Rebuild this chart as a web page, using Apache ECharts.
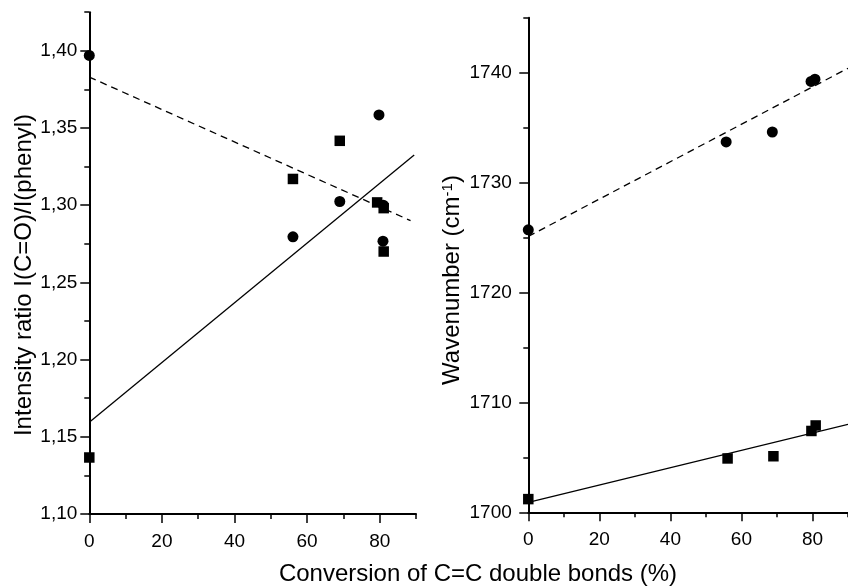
<!DOCTYPE html>
<html>
<head>
<meta charset="utf-8">
<script src="https://cdn.jsdelivr.net/npm/echarts@6/dist/echarts.min.js"></script>
<style>
  html, body { margin: 0; padding: 0; background: #fff; }
  #chart { width: 848px; height: 586px; }
</style>
</head>
<body>
<div id="chart"></div>
<script>
// Intensity ratio I(C=O)/I(phenyl) vs conversion
const ratioCircles = [[0, 1.397], [56.1, 1.2795], [69.0, 1.3024], [79.8, 1.3585], [81.0, 1.300], [80.9, 1.2767]];
const ratioSquares = [[0, 1.1366], [56.1, 1.317], [69.0, 1.3417], [79.3, 1.3018], [81.1, 1.2981], [81.1, 1.270]];
const ratioFitDashed = [[0, 1.383], [88.5, 1.290]];
const ratioFitSolid = [[0, 1.1595], [89.5, 1.3325]];

// Wavenumber vs conversion
const waveCircles = [[0, 1725.7], [55.7, 1733.7], [68.7, 1734.6], [79.6, 1739.2], [80.7, 1739.4]];
const waveSquares = [[0, 1701.2], [56.1, 1704.9], [69.0, 1705.1], [79.7, 1707.4], [80.9, 1707.9]];
const waveFitDashed = [[0, 1725.1], [90, 1740.4]];
const waveFitSolid = [[0, 1700.9], [90, 1708.0]];

// Tick values
const xMajorTicks = [0, 20, 40, 60, 80];
const ratioMajorTicks = [1.10, 1.15, 1.20, 1.25, 1.30, 1.35, 1.40];
const waveMajorTicks = [1700, 1710, 1720, 1730, 1740];

const FONT = '"Liberation Sans", Arial, Helvetica, sans-serif';
const INK = '#000';

function minorAxis(gridIndex, min, max, step, pos) {
  return {
    type: 'value', gridIndex, min, max, interval: step, position: pos,
    axisLine: { show: true, onZero: false, lineStyle: { color: INK, width: 2 } },
    axisTick: { show: true, inside: false, length: 5, lineStyle: { color: INK, width: 1.5 } },
    axisLabel: { show: false },
    splitLine: { show: false }
  };
}
function majorAxis(gridIndex, min, max, ticks, pos, margin, fmt) {
  return {
    type: 'value', gridIndex, min, max, position: pos,
    axisLine: { show: false, onZero: false },
    axisTick: { show: true, length: 9, customValues: ticks, lineStyle: { color: INK, width: 1.5 } },
    axisLabel: { show: true, customValues: ticks, margin, color: INK, fontSize: 19, fontFamily: FONT, formatter: fmt },
    splitLine: { show: false }
  };
}

const commaFmt = v => v.toFixed(2).replace('.', ',');
const intFmt = v => String(Math.round(v));

const scatter = (name, data, xi, yi, symbol, size) => ({
  name, type: 'scatter', xAxisIndex: xi, yAxisIndex: yi, data,
  symbol, symbolSize: size, itemStyle: { color: INK, opacity: 1 }, z: 5, silent: true
});
const fit = (name, data, xi, yi, dashed) => ({
  name, type: 'line', xAxisIndex: xi, yAxisIndex: yi, data,
  showSymbol: false, symbol: 'none', silent: true, z: 3,
  lineStyle: { color: INK, width: 1.3, type: dashed ? [7, 5] : 'solid' }
});

const chart = echarts.init(document.getElementById('chart'), null, { renderer: 'canvas' });
chart.setOption({
  backgroundColor: '#fff',
  animation: false,
  grid: [
    { left: 89.3, top: 12.2, width: 326.7, height: 501.8 },
    { left: 528.3, top: 17.7, width: 326.25, height: 494.6 }
  ],
  xAxis: [
    minorAxis(0, 0, 90, 10, 'bottom'),
    majorAxis(0, 0, 90, xMajorTicks, 'bottom', 18, intFmt),
    minorAxis(1, 0, 90, 10, 'bottom'),
    majorAxis(1, 0, 90, xMajorTicks, 'bottom', 18, intFmt)
  ],
  yAxis: [
    minorAxis(0, 1.10, 1.425, 0.025, 'left'),
    majorAxis(0, 1.10, 1.425, ratioMajorTicks, 'left', 12, commaFmt),
    minorAxis(1, 1700, 1745, 5, 'left'),
    majorAxis(1, 1700, 1745, waveMajorTicks, 'left', 16.5, intFmt)
  ],
  series: [
    fit('ratio fit (circles)', ratioFitDashed, 0, 0, true),
    fit('ratio fit (squares)', ratioFitSolid, 0, 0, false),
    scatter('ratio circles', ratioCircles, 0, 0, 'circle', 11),
    scatter('ratio squares', ratioSquares, 0, 0, 'rect', 10.5),
    fit('wavenumber fit (circles)', waveFitDashed, 2, 2, true),
    fit('wavenumber fit (squares)', waveFitSolid, 2, 2, false),
    scatter('wavenumber circles', waveCircles, 2, 2, 'circle', 11),
    scatter('wavenumber squares', waveSquares, 2, 2, 'rect', 10.5)
  ],
  graphic: [
    {
      type: 'text', x: 24, y: 275, rotation: Math.PI / 2,
      style: { text: 'Intensity ratio I(C=O)/I(phenyl)', fill: INK, font: '24px ' + FONT, align: 'center', verticalAlign: 'middle' }
    },
    {
      type: 'text', x: 452, y: 280, rotation: Math.PI / 2,
      style: {
        text: 'Wavenumber (cm{sup|-1})', fill: INK, font: '24px ' + FONT, align: 'center', verticalAlign: 'middle',
        rich: { sup: { fontSize: 15, fontFamily: FONT, fill: INK, verticalAlign: 'top', lineHeight: 24 } }
      }
    },
    {
      type: 'text', x: 478, y: 574,
      style: { text: 'Conversion of C=C double bonds (%)', fill: INK, font: '24px ' + FONT, align: 'center', verticalAlign: 'middle' }
    }
  ]
});
</script>
</body>
</html>
